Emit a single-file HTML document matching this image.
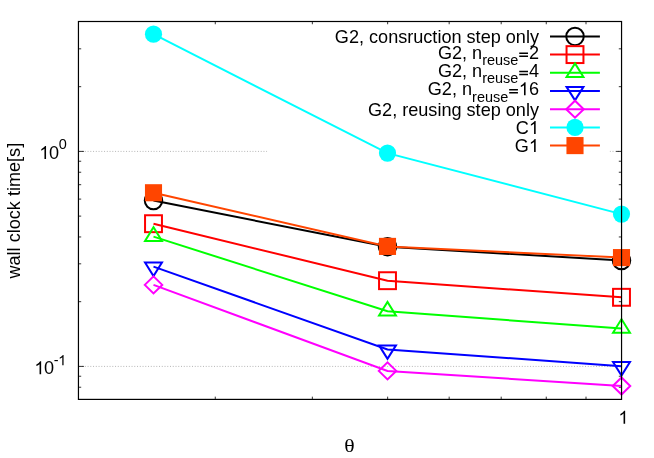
<!DOCTYPE html>
<html><head><meta charset="utf-8"><title>plot</title>
<style>
html,body{margin:0;padding:0;background:#fff;}
body{width:654px;height:458px;overflow:hidden;}
svg{display:block;will-change:transform;}
text{font-family:"Liberation Sans",sans-serif;font-size:18.1px;fill:#000;}
.th{font-family:"Liberation Serif",serif;}
.h{fill:none;}
</style></head><body>
<svg width="654" height="458" viewBox="0 0 654 458">
<rect width="654" height="458" fill="#fff"/>
<line x1="78.45" y1="151.4" x2="621.55" y2="151.4" stroke="#000" stroke-opacity="0.42" stroke-width="0.7" stroke-dasharray="1 1.7484" stroke-dashoffset="1.88"/>
<line x1="78.45" y1="366.4" x2="621.55" y2="366.4" stroke="#000" stroke-opacity="0.42" stroke-width="0.7" stroke-dasharray="1 1.7484" stroke-dashoffset="1.88"/>
<path d="M78.45 387.24h2.75M621.55 387.24h-2.75M78.45 376.24h2.75M621.55 376.24h-2.75M78.45 366.4h5.5M621.55 366.4h-5.5M78.45 301.68h2.75M621.55 301.68h-2.75M78.45 263.82h2.75M621.55 263.82h-2.75M78.45 236.96h2.75M621.55 236.96h-2.75M78.45 216.12h2.75M621.55 216.12h-2.75M78.45 199.1h2.75M621.55 199.1h-2.75M78.45 184.7h2.75M621.55 184.7h-2.75M78.45 172.24h2.75M621.55 172.24h-2.75M78.45 161.24h2.75M621.55 161.24h-2.75M78.45 151.4h5.5M621.55 151.4h-5.5M78.45 86.68h2.75M621.55 86.68h-2.75M78.45 48.82h2.75M621.55 48.82h-2.75M215.27 399.4v-2.75M215.27 21.5v2.75M312.35 399.4v-2.75M312.35 21.5v2.75M387.65 399.4v-2.75M387.65 21.5v2.75M449.17 399.4v-2.75M449.17 21.5v2.75M501.19 399.4v-2.75M501.19 21.5v2.75M546.25 399.4v-2.75M546.25 21.5v2.75M586 399.4v-2.75M586 21.5v2.75" fill="none" stroke="#000" stroke-width="0.8"/>
<rect x="267.2" y="26" width="342.3" height="129.5" fill="#fff"/>
<polyline points="153.5,200.6 387.5,246.7 621.5,260.5" fill="none" stroke="#000000" stroke-width="2" stroke-linejoin="miter"/>
<circle cx="153.5" cy="200.6" r="8.75" fill="none" stroke="#000000" stroke-width="2"/>
<circle cx="387.5" cy="246.7" r="8.75" fill="none" stroke="#000000" stroke-width="2"/>
<circle cx="621.5" cy="260.5" r="8.75" fill="none" stroke="#000000" stroke-width="2"/>
<text id="t0" x="539" y="42.9" text-anchor="end">G2, consruction step only</text>
<line x1="550" y1="36.4" x2="599.9" y2="36.4" stroke="#000000" stroke-width="2"/>
<circle cx="575" cy="36.4" r="8.75" fill="none" stroke="#000000" stroke-width="2"/>
<polyline points="153.5,223.7 387.5,280.7 621.5,297.3" fill="none" stroke="#ff0000" stroke-width="2" stroke-linejoin="miter"/>
<rect x="145.05" y="215.25" width="16.9" height="16.9" fill="none" stroke="#ff0000" stroke-width="2"/>
<rect x="379.05" y="272.25" width="16.9" height="16.9" fill="none" stroke="#ff0000" stroke-width="2"/>
<rect x="613.05" y="288.85" width="16.9" height="16.9" fill="none" stroke="#ff0000" stroke-width="2"/>
<text id="t1" x="539" y="58.9" text-anchor="end">G2, n<tspan font-size="14.48px" dy="6.3">reuse</tspan><tspan dy="-6.3"><tspan class="h">=</tspan>2</tspan></text>
<line x1="550" y1="54.6" x2="599.9" y2="54.6" stroke="#ff0000" stroke-width="2"/>
<rect x="566.55" y="46.15" width="16.9" height="16.9" fill="none" stroke="#ff0000" stroke-width="2"/>
<polyline points="153.5,236.6 387.5,311.3 621.5,328.5" fill="none" stroke="#00ff00" stroke-width="2" stroke-linejoin="miter"/>
<path d="M145.05 240.9L161.95 240.9L153.5 227.2Z" fill="none" stroke="#00ff00" stroke-width="2" stroke-miterlimit="10"/>
<path d="M379.05 315.6L395.95 315.6L387.5 301.9Z" fill="none" stroke="#00ff00" stroke-width="2" stroke-miterlimit="10"/>
<path d="M613.05 332.8L629.95 332.8L621.5 319.1Z" fill="none" stroke="#00ff00" stroke-width="2" stroke-miterlimit="10"/>
<text id="t2" x="539" y="77.1" text-anchor="end">G2, n<tspan font-size="14.48px" dy="6.3">reuse</tspan><tspan dy="-6.3"><tspan class="h">=</tspan>4</tspan></text>
<line x1="550" y1="72.8" x2="599.9" y2="72.8" stroke="#00ff00" stroke-width="2"/>
<path d="M566.55 77.1L583.45 77.1L575 63.4Z" fill="none" stroke="#00ff00" stroke-width="2" stroke-miterlimit="10"/>
<polyline points="153.5,266.6 387.5,349.5 621.5,366.2" fill="none" stroke="#0000ff" stroke-width="2" stroke-linejoin="miter"/>
<path d="M145.05 262.5L161.95 262.5L153.5 276Z" fill="none" stroke="#0000ff" stroke-width="2" stroke-miterlimit="10"/>
<path d="M379.05 345.4L395.95 345.4L387.5 358.9Z" fill="none" stroke="#0000ff" stroke-width="2" stroke-miterlimit="10"/>
<path d="M613.05 362.1L629.95 362.1L621.5 375.6Z" fill="none" stroke="#0000ff" stroke-width="2" stroke-miterlimit="10"/>
<text id="t3" x="539" y="95.3" text-anchor="end">G2, n<tspan font-size="14.48px" dy="6.3">reuse</tspan><tspan dy="-6.3"><tspan class="h">=</tspan><tspan class="h">1</tspan>6</tspan></text>
<line x1="550" y1="91" x2="599.9" y2="91" stroke="#0000ff" stroke-width="2"/>
<path d="M566.55 86.9L583.45 86.9L575 100.4Z" fill="none" stroke="#0000ff" stroke-width="2" stroke-miterlimit="10"/>
<polyline points="153.5,284.9 387.5,370.9 621.5,386" fill="none" stroke="#ff00ff" stroke-width="2" stroke-linejoin="miter"/>
<path d="M144.75 284.9L153.5 293.4L162.25 284.9L153.5 276.4Z" fill="none" stroke="#ff00ff" stroke-width="2" stroke-miterlimit="10"/>
<path d="M378.75 370.9L387.5 379.4L396.25 370.9L387.5 362.4Z" fill="none" stroke="#ff00ff" stroke-width="2" stroke-miterlimit="10"/>
<path d="M612.75 386L621.5 394.5L630.25 386L621.5 377.5Z" fill="none" stroke="#ff00ff" stroke-width="2" stroke-miterlimit="10"/>
<text id="t4" x="539" y="115.7" text-anchor="end">G2, reusing step only</text>
<line x1="550" y1="109.2" x2="599.9" y2="109.2" stroke="#ff00ff" stroke-width="2"/>
<path d="M566.25 109.2L575 117.7L583.75 109.2L575 100.7Z" fill="none" stroke="#ff00ff" stroke-width="2" stroke-miterlimit="10"/>
<polyline points="153.5,34.2 387.5,153.1 621.5,214.1" fill="none" stroke="#00ffff" stroke-width="2" stroke-linejoin="miter"/>
<circle cx="153.5" cy="34.2" r="8.6" fill="#00ffff"/>
<circle cx="387.5" cy="153.1" r="8.6" fill="#00ffff"/>
<circle cx="621.5" cy="214.1" r="8.6" fill="#00ffff"/>
<text id="t5" x="539" y="133.9" text-anchor="end">C<tspan class="h">1</tspan></text>
<line x1="550" y1="127.4" x2="599.9" y2="127.4" stroke="#00ffff" stroke-width="2"/>
<circle cx="575" cy="127.4" r="8.6" fill="#00ffff"/>
<polyline points="153.5,192.75 387.5,246.4 621.5,257.6" fill="none" stroke="#ff4500" stroke-width="2" stroke-linejoin="miter"/>
<rect x="144.95" y="184.2" width="17.1" height="17.1" fill="#ff4500"/>
<rect x="378.95" y="237.85" width="17.1" height="17.1" fill="#ff4500"/>
<rect x="612.95" y="249.05" width="17.1" height="17.1" fill="#ff4500"/>
<text id="t6" x="539" y="152.1" text-anchor="end">G<tspan class="h">1</tspan></text>
<line x1="550" y1="145.6" x2="599.9" y2="145.6" stroke="#ff4500" stroke-width="2"/>
<rect x="566.45" y="137.05" width="17.1" height="17.1" fill="#ff4500"/>
<rect x="78.45" y="21.5" width="543.1" height="377.9" fill="none" stroke="#000" stroke-width="1.2"/>
<text id="t7" x="39.3" y="158.9" letter-spacing="-0.3"><tspan class="h">1</tspan>0<tspan font-size="14.48px" dy="-9.5">0</tspan></text>
<text id="t8" x="34.4" y="374.3" letter-spacing="-0.4"><tspan class="h">1</tspan>0<tspan font-size="14.48px" dy="-9">-<tspan class="h">1</tspan></tspan></text>
<text id="t9" x="618.4" y="423.7"><tspan class="h">1</tspan></text>
<text class="th" transform="translate(349.55 451.7) scale(1.2 1)" text-anchor="middle">θ</text>
<text transform="translate(20.0 210.7) rotate(-90)" text-anchor="middle">wall clock time[s]</text>
<path transform="translate(518.34 58.9) scale(0.008838 -0.008838)" d="M102 215H1094V379H102ZM102 553H1094V717H102Z"/>
<path transform="translate(518.34 77.1) scale(0.008838 -0.008838)" d="M102 215H1094V379H102ZM102 553H1094V717H102Z"/>
<path transform="translate(508.27 95.3) scale(0.008838 -0.008838)" d="M102 215H1094V379H102ZM102 553H1094V717H102Z"/>
<path transform="translate(518.84 95.3) scale(0.008838 -0.008838)" d="M763 0H583V1147Q518 1085 412.5 1023T223 930V1104Q374 1175 487 1276T647 1472H763Z"/>
<path transform="translate(528.92 133.9) scale(0.008838 -0.008838)" d="M763 0H583V1147Q518 1085 412.5 1023T223 930V1104Q374 1175 487 1276T647 1472H763Z"/>
<path transform="translate(528.92 152.1) scale(0.008838 -0.008838)" d="M763 0H583V1147Q518 1085 412.5 1023T223 930V1104Q374 1175 487 1276T647 1472H763Z"/>
<path transform="translate(39.3 158.9) scale(0.008838 -0.008838)" d="M763 0H583V1147Q518 1085 412.5 1023T223 930V1104Q374 1175 487 1276T647 1472H763Z"/>
<path transform="translate(34.4 374.3) scale(0.008838 -0.008838)" d="M763 0H583V1147Q518 1085 412.5 1023T223 930V1104Q374 1175 487 1276T647 1472H763Z"/>
<path transform="translate(58.17 365.3) scale(0.007070 -0.007070)" d="M763 0H583V1147Q518 1085 412.5 1023T223 930V1104Q374 1175 487 1276T647 1472H763Z"/>
<path transform="translate(618.4 423.7) scale(0.008838 -0.008838)" d="M763 0H583V1147Q518 1085 412.5 1023T223 930V1104Q374 1175 487 1276T647 1472H763Z"/>
</svg></body></html>
